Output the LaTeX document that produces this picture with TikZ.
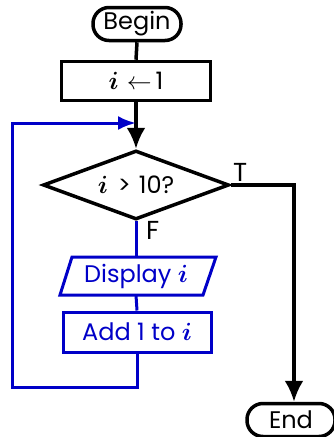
\documentclass[tikz,border=0pt]{standalone}
\usepackage{amsmath,bm}
\usepackage{fontspec}
\setmainfont{Poppins}
\usetikzlibrary{arrows.meta,shapes.geometric}
\definecolor{loopblue}{RGB}{0,0,200}
\tikzset{
  blk/.style={line width=3.5pt, draw=black},
  blu/.style={line width=3pt, draw=loopblue},
  txt/.style={font=\fontsize{24}{27}\selectfont},
  term/.style={blk, txt, rectangle, rounded corners=16pt, minimum width=88pt, minimum height=33pt, inner sep=0pt},
  procbox/.style={txt, rectangle, inner sep=0pt},
  lbl/.style={font=\fontsize{26}{29}\selectfont, inner sep=0pt},
  barrow/.style={-{Latex[length=21pt,width=19pt]}},
  uarrow/.style={-{Latex[length=18pt,width=14pt]}},
}
\newcommand{\iv}{$\bm{i}$}
\begin{document}
\begin{tikzpicture}[x=1pt,y=-1pt]
\useasboundingbox (0,0) rectangle (334,437);
% nodes
\node[term] (begin) at (137,24) {Begin};
\node[procbox, blk, minimum width=149pt, minimum height=39pt] (init) at (136,81) {\iv\hspace{8pt}$\leftarrow$\hspace{4pt}1};
\node[blk, diamond, aspect=2.7, minimum width=186pt, minimum height=69pt, inner sep=0pt] (cond) at (136,185) {};
\node[txt, inner sep=0pt] at (136,185) {\iv\hspace{10pt}>\hspace{8pt}10?};
\node[procbox, text=loopblue, minimum width=131pt, minimum height=38pt] (disp) at (136,276) {Display \iv};
\draw[blu, line join=miter] (72,257) -- (216,257) -- (203,295) -- (60,295) -- cycle;
\node[procbox, blu, text=loopblue, minimum width=148pt, minimum height=40pt] (add) at (137,332) {Add 1 to \iv};
\node[term] (end) at (291,420) {End};
\node[lbl, anchor=south west] (tlab) at (233,182) {T};
\node[lbl, anchor=north west] (flab) at (146,221) {F};
\coordinate (loopbl) at (12,387);
\coordinate (looptl) at (12,123);
\coordinate (merge) at (136,123);
\coordinate (tcorner) at (294,186);
% connectors
\draw[blk] (begin.south) -- (init.north);
\draw[blk, barrow] (init.south) -- (cond.north);
\draw[blu] (cond.south) -- (disp.north);
\draw[blu] (disp.south) -- (add.north);
\draw[blu, uarrow] (add.south) |- (loopbl) -- (looptl) -- (merge);
\draw[blk, barrow] (cond.east) -| (end.north -| tcorner);
\end{tikzpicture}
\end{document}
